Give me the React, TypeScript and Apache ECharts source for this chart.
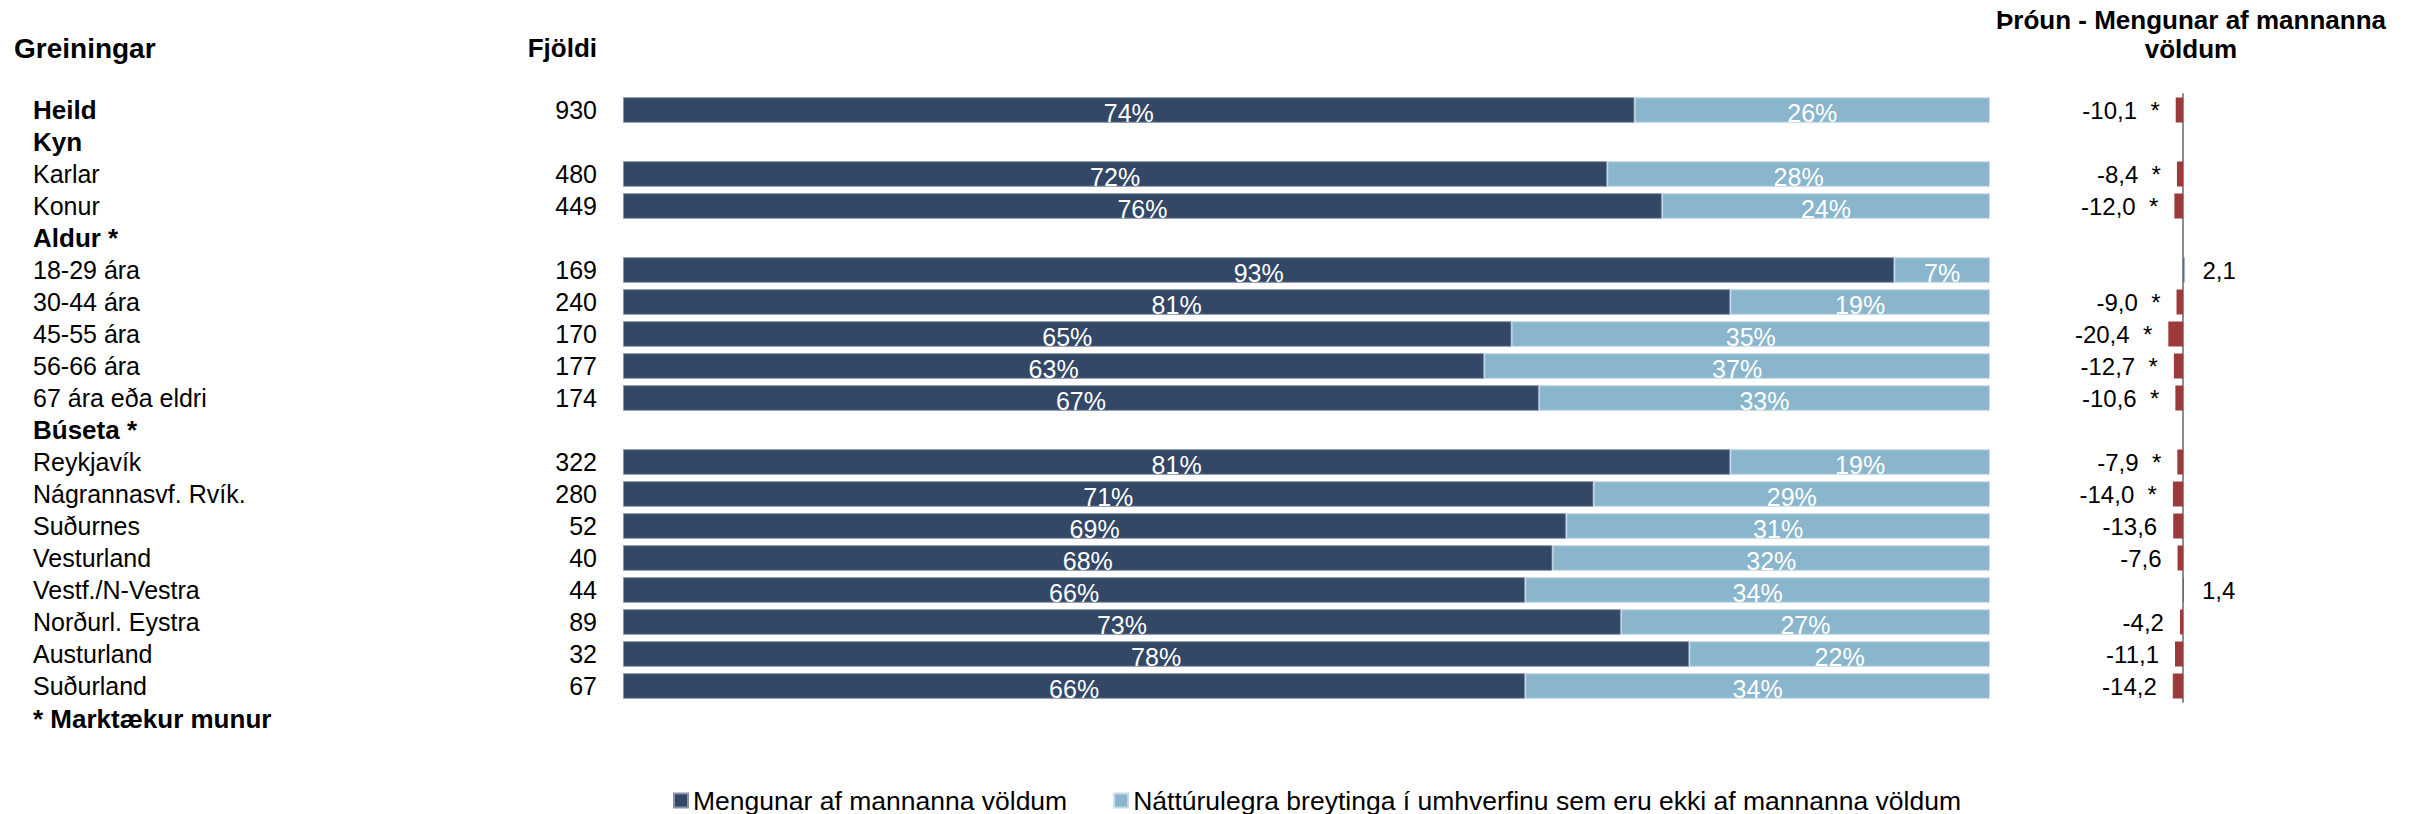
import React, { useEffect, useRef } from "react";
import * as echarts from "echarts";

const categories = [
  "Heild", "Kyn", "Karlar", "Konur", "Aldur *", "18-29 ára", "30-44 ára", "45-55 ára",
  "56-66 ára", "67 ára eða eldri", "Búseta *", "Reykjavík", "Nágrannasvf. Rvík.",
  "Suðurnes", "Vesturland", "Vestf./N-Vestra", "Norðurl. Eystra", "Austurland", "Suðurland",
];
const boldRows = ["Heild", "Kyn", "Aldur *", "Búseta *"];
const counts = [930, null, 480, 449, null, 169, 240, 170, 177, 174, null, 322, 280, 52, 40, 44, 89, 32, 67];
const humanCaused = [74, null, 72, 76, null, 93, 81, 65, 63, 67, null, 81, 71, 69, 68, 66, 73, 78, 66];
const natural = [26, null, 28, 24, null, 7, 19, 35, 37, 33, null, 19, 29, 31, 32, 34, 27, 22, 34];
const trend = [-10.1, null, -8.4, -12.0, null, 2.1, -9.0, -20.4, -12.7, -10.6, null, -7.9, -14.0, -13.6, -7.6, 1.4, -4.2, -11.1, -14.2];
const significant = [true, false, true, true, false, false, true, true, true, true, false, true, true, false, false, false, false, false, false];
const seriesNames = ["Mengunar af mannanna völdum", "Náttúrulegra breytinga í umhverfinu sem eru ekki af mannanna völdum"];

const FONT = "'Liberation Sans', Arial, sans-serif";
const DARK = "#334766";
const LIGHT = "#89b6cc";
const RED = "#9e3a39";
const BLUE = "#4a6fa0";

export default function App() {
  const ref = useRef<HTMLDivElement>(null);
  useEffect(() => {
    if (!ref.current) return;
    const chart = echarts.init(ref.current, null, { renderer: "svg" });
    const gridTop = 94;
    const gridHeight = 608;
    const fmt = (v: number) => v.toFixed(1).replace(".", ",");
    const trendData = trend.map((v, i) =>
      v === null
        ? null
        : {
            value: v,
            itemStyle: { color: v < 0 ? RED : BLUE },
            label: {
              position: v < 0 ? "left" : "right",
              distance: v < 0 ? 16 : 18,
              formatter: fmt(v) + (significant[i] ? "  *" : ""),
            },
          }
    );
    const option: any = {
      animation: false,
      textStyle: { fontFamily: FONT },
      grid: [
        { left: 623, width: 1367, top: gridTop, height: gridHeight, containLabel: false },
        { left: 2111, width: 144, top: gridTop, height: gridHeight, containLabel: false },
      ],
      xAxis: [
        { type: "value", gridIndex: 0, min: 0, max: 100, show: false },
        { type: "value", gridIndex: 1, min: -100, max: 100, show: false },
      ],
      yAxis: [
        {
          type: "category",
          gridIndex: 0,
          inverse: true,
          data: categories,
          position: "left",
          axisLine: { show: false },
          axisTick: { show: false },
          axisLabel: {
            interval: 0,
            margin: 590,
            align: "left",
            color: "#000",
            formatter: (v: string) => (boldRows.includes(v) ? `{b|${v}}` : `{n|${v}}`),
            rich: {
              b: { fontFamily: FONT, fontSize: 26, fontWeight: "bold", color: "#000" },
              n: { fontFamily: FONT, fontSize: 25, color: "#000" },
            },
          },
        },
        {
          type: "category",
          gridIndex: 0,
          inverse: true,
          data: counts.map((c) => (c === null ? "" : String(c))),
          position: "left",
          offset: 0,
          axisLine: { show: false },
          axisTick: { show: false },
          axisLabel: {
            interval: 0,
            margin: 26,
            align: "right",
            color: "#000",
            fontFamily: FONT,
            fontSize: 25,
          },
        },
        {
          type: "category",
          gridIndex: 1,
          inverse: true,
          data: categories,
          axisLine: { show: true, onZero: true, lineStyle: { color: "#8c8c8c", width: 2 } },
          axisTick: { show: false },
          axisLabel: { show: false },
        },
      ],
      legend: {
        left: 673,
        top: 787,
        padding: 0,
        itemWidth: 14,
        itemHeight: 14,
        itemGap: 46,
        icon: "rect",
        data: seriesNames,
        textStyle: { fontFamily: FONT, fontSize: 26.5, lineHeight: 26, color: "#000" },
      },
      series: [
        {
          name: seriesNames[0],
          type: "bar",
          stack: "a",
          xAxisIndex: 0,
          yAxisIndex: 0,
          barCategoryGap: "20%",
          data: humanCaused,
          itemStyle: { color: DARK, borderColor: "#8593ab", borderWidth: 1 },
          label: {
            show: true,
            position: "inside",
            offset: [0, 3],
            color: "#fff",
            fontFamily: FONT,
            fontSize: 25,
            formatter: (p: any) => `${p.value}%`,
          },
        },
        {
          name: seriesNames[1],
          type: "bar",
          stack: "a",
          xAxisIndex: 0,
          yAxisIndex: 0,
          barCategoryGap: "20%",
          data: natural,
          itemStyle: { color: LIGHT, borderColor: "#c4dce8", borderWidth: 1 },
          label: {
            show: true,
            position: "inside",
            offset: [0, 3],
            color: "#fff",
            fontFamily: FONT,
            fontSize: 25,
            formatter: (p: any) => `${p.value}%`,
          },
        },
        {
          name: "Þróun",
          type: "bar",
          xAxisIndex: 1,
          yAxisIndex: 2,
          barCategoryGap: "22%",
          data: trendData,
          label: {
            show: true,
            color: "#000",
            fontFamily: FONT,
            fontSize: 24,
          },
        },
      ],
      graphic: [
        {
          type: "text",
          x: 14,
          y: 48,
          style: { text: "Greiningar", fontFamily: FONT, fontSize: 28, fontWeight: "bold", fill: "#000", align: "left", verticalAlign: "middle" },
        },
        {
          type: "text",
          x: 597,
          y: 48,
          style: { text: "Fjöldi", fontFamily: FONT, fontSize: 26, fontWeight: "bold", fill: "#000", align: "right", verticalAlign: "middle" },
        },
        {
          type: "text",
          x: 2191,
          y: 5,
          style: {
            text: "Þróun - Mengunar af mannanna\nvöldum",
            fontFamily: FONT,
            fontSize: 26,
            fontWeight: "bold",
            lineHeight: 29,
            fill: "#000",
            align: "center",
            verticalAlign: "top",
          },
        },
        {
          type: "text",
          x: 33,
          y: 719,
          style: { text: "* Marktækur munur", fontFamily: FONT, fontSize: 26, fontWeight: "bold", fill: "#000", align: "left", verticalAlign: "middle" },
        },
      ],
    };
    chart.setOption(option);
    return () => chart.dispose();
  }, []);
  return (
    <div
      ref={ref}
      style={{ position: "fixed", left: 0, top: 0, width: 2417, height: 814, background: "#fff" }}
    />
  );
}
